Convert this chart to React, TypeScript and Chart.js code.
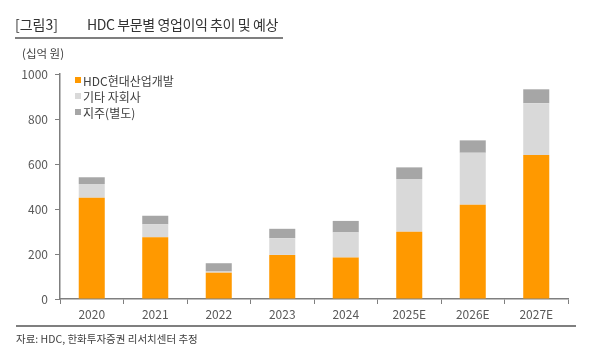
import React, { useEffect, useRef } from "react";
import { Chart, registerables } from "chart.js";

Chart.register(...registerables);

const categories = ["2020", "2021", "2022", "2023", "2024", "2025E", "2026E", "2027E"];
const seriesNames = ["HDC현대산업개발", "기타 자회사", "지주(별도)"];
const hdcValues = [450, 274, 117, 196, 184, 299, 419, 640];
const otherSubsValues = [61, 58, 5, 74, 112, 234, 231, 230];
const holdingValues = [30, 38, 37, 42, 51, 52, 55, 62];
const seriesColors = ["#FF9900", "#D9D9D9", "#A6A6A6"];
const yTicks = [0, 200, 400, 600, 800, 1000];

const FONT = "'Noto Sans CJK KR', 'Noto Sans', sans-serif";

export default function App() {
  const canvasRef = useRef<HTMLCanvasElement | null>(null);

  useEffect(() => {
    if (!canvasRef.current) return;
    const chart = new Chart(canvasRef.current, {
      type: "bar",
      data: {
        labels: categories,
        datasets: [
          { label: seriesNames[0], data: hdcValues, backgroundColor: seriesColors[0] },
          { label: seriesNames[1], data: otherSubsValues, backgroundColor: seriesColors[1] },
          { label: seriesNames[2], data: holdingValues, backgroundColor: seriesColors[2] },
        ],
      },
      options: {
        animation: false,
        responsive: false,
        devicePixelRatio: 1,
        layout: { padding: { left: 0, top: 74, right: 32, bottom: 0 } },
        datasets: { bar: { categoryPercentage: 1, barPercentage: 0.41 } },
        plugins: { legend: { display: false }, tooltip: { enabled: false } },
        scales: {
          x: {
            stacked: true,
            offset: true,
            afterFit: (s: any) => { s.height = 57; },
            border: { display: true, color: "#7F7F7F", width: 1.5 },
            grid: { display: true, drawOnChartArea: false, drawTicks: true, tickLength: 5, color: "#7F7F7F", offset: true },
            ticks: { color: "#595959", font: { family: FONT, size: 12 }, padding: 3, maxRotation: 0 },
          },
          y: {
            stacked: true,
            min: 0,
            max: 1000,
            afterFit: (s: any) => { s.width = 60; },
            afterBuildTicks: (s: any) => { s.ticks = yTicks.map((v) => ({ value: v })); },
            border: { display: true, color: "#7F7F7F", width: 1.5 },
            grid: { display: true, drawOnChartArea: false, drawTicks: true, tickLength: 5, color: "#7F7F7F" },
            ticks: { color: "#595959", font: { family: FONT, size: 12 }, padding: 7, callback: (v: any) => String(v) },
          },
        },
      },
    });
    return () => chart.destroy();
  }, []);

  return (
    <div style={{ position: "fixed", left: 0, top: 0, width: 600, height: 356, background: "#fff", fontFamily: FONT, overflow: "hidden" }}>
      <canvas ref={canvasRef} width={600} height={356} style={{ position: "absolute", left: 0, top: 0 }} />
      <div style={{ position: "absolute", left: 15, top: 13, fontSize: 14, color: "#333", whiteSpace: "nowrap", lineHeight: "22px" }}>
        <span>[그림3]</span>
        <span style={{ marginLeft: 29, letterSpacing: "-0.4px" }}>HDC 부문별 영업이익 추이 및 예상</span>
      </div>
      <div style={{ position: "absolute", left: 15, top: 37, width: 268, height: 2, background: "#7F7F7F" }} />
      <div style={{ position: "absolute", left: 22, top: 45, fontSize: 11.5, color: "#404040", lineHeight: "16px", whiteSpace: "nowrap" }}>(십억 원)</div>
      <div style={{ position: "absolute", left: 75, top: 72 }}>
        {seriesNames.map((n, i) => (
          <div key={n} style={{ display: "flex", alignItems: "center", height: 16, fontSize: 12, color: "#404040", whiteSpace: "nowrap" }}>
            <span style={{ width: 6, height: 6, background: seriesColors[i], marginRight: 2, display: "inline-block" }} />
            <span>{n}</span>
          </div>
        ))}
      </div>
      <div style={{ position: "absolute", left: 16, top: 325, width: 560, height: 1.5, background: "#7F7F7F" }} />
      <div style={{ position: "absolute", left: 16, top: 331, fontSize: 10.5, color: "#404040", lineHeight: "16px", whiteSpace: "nowrap" }}>자료: HDC, 한화투자증권 리서치센터 추정</div>
    </div>
  );
}
